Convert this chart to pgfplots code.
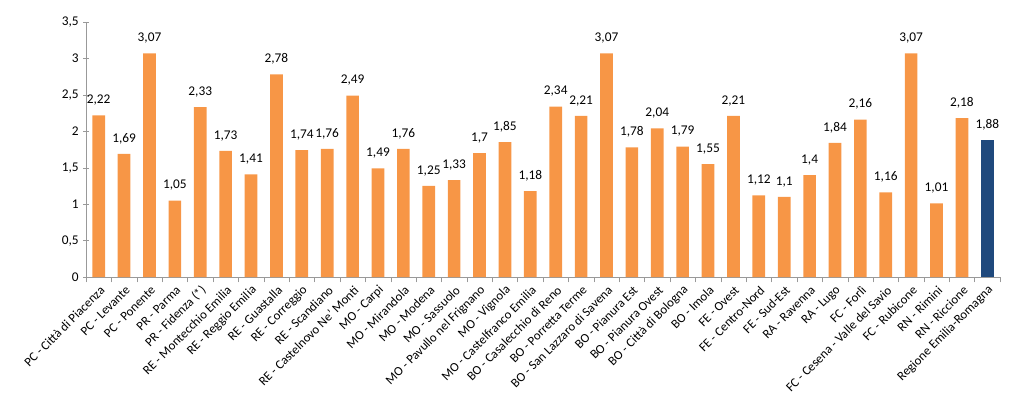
\documentclass[border=0pt]{standalone}
\usepackage{pgfplots}
\pgfplotsset{compat=1.18}
\usepackage{fontspec}
\setmainfont{Carlito}
\definecolor{barorange}{HTML}{F79646}
\definecolor{barblue}{HTML}{1F497D}
\begin{document}
\begin{tikzpicture}
\begin{axis}[
  scale only axis,
  width=685.5pt, height=191.25pt,
  ymin=0, ymax=3.5,
  xmin=-0.5, xmax=35.5,
  ytick={0,0.5,...,3.5},
  xtick={0,...,35},
  minor xtick={-0.5,0.5,...,35.5},
  major x tick style={draw=none},
  minor tick length=4pt,
  major tick length=4pt,
  tick align=outside,
  tick style={gray!80},
  axis lines=left,
  axis line style={-, gray!80},
  xticklabels={PC - Città di Piacenza, PC - Levante, PC - Ponente, PR - Parma, PR - Fidenza (*), RE - Montecchio Emilia, RE - Reggio Emilia, RE - Guastalla, RE - Correggio, RE - Scandiano, RE - Castelnovo Ne' Monti, MO - Carpi, MO - Mirandola, MO - Modena, MO - Sassuolo, MO - Pavullo nel Frignano, MO - Vignola, MO - Castelfranco Emilia, BO - Casalecchio di Reno, BO - Porretta Terme, BO - San Lazzaro di Savena, BO - Pianura Est, BO - Pianura Ovest, BO - Città di Bologna, BO - Imola, FE - Ovest, FE - Centro-Nord, FE - Sud-Est, RA - Ravenna, RA - Lugo, FC - Forlì, FC - Cesena - Valle del Savio, FC - Rubicone, RN - Rimini, RN - Riccione, Regione Emilia-Romagna},
  x tick label style={rotate=45, anchor=east, font=\fontsize{9.6}{11}\selectfont, inner sep=1pt, yshift=-5pt},
  y tick label style={font=\fontsize{10}{12}\selectfont},
  /pgf/number format/use comma,
  /pgf/number format/assume math mode=true,
  ybar, bar width=9.5pt, bar shift=0pt,
  nodes near coords,
  every node near coord/.append style={font=\fontsize{10}{12}\selectfont, black, /pgf/number format/use comma, /pgf/number format/assume math mode=true, yshift=4pt},
]
\addplot[fill=barorange, draw=none] coordinates {
 (0,2.22) (1,1.69) (2,3.07) (3,1.05) (4,2.33) (5,1.73) (6,1.41) (7,2.78)
 (8,1.74) (9,1.76) (10,2.49) (11,1.49) (12,1.76) (13,1.25) (14,1.33) (15,1.7)
 (16,1.85) (17,1.18) (18,2.34) (19,2.21) (20,3.07) (21,1.78) (22,2.04) (23,1.79)
 (24,1.55) (25,2.21) (26,1.12) (27,1.1) (28,1.4) (29,1.84) (30,2.16) (31,1.16)
 (32,3.07) (33,1.01) (34,2.18)
};
\addplot[fill=barblue, draw=none] coordinates {(35,1.88)};
\end{axis}
\path[use as bounding box] (-64.5pt,-98.25pt) rectangle (703.5pt,207.75pt);
\end{tikzpicture}
\end{document}
